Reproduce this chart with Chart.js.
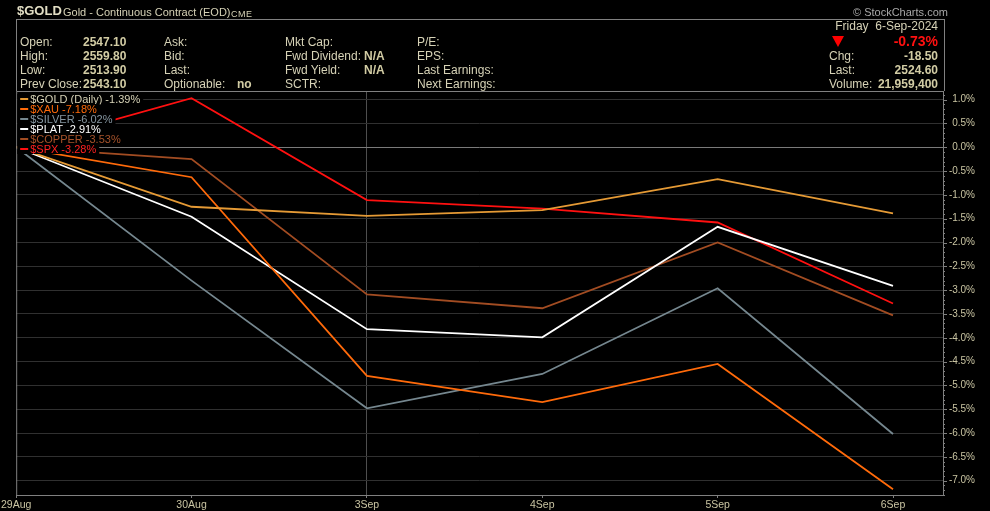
<!DOCTYPE html>
<html>
<head>
<meta charset="utf-8">
<title>$GOLD performance</title>
<script src="https://cdn.jsdelivr.net/npm/chart.js@4.4.1/dist/chart.umd.min.js"></script>
<style>
	html, body {
		margin: 0;
		padding: 0;
		background: #000;
		width: 990px;
		height: 511px;
		overflow: hidden;
		font-family: "Liberation Sans", Arial, sans-serif;
	}
	#wrap {
		position: relative;
		width: 990px;
		height: 511px;
	}
	#chart {
		position: absolute;
		left: 0;
		top: 0;
	}
	.t {
		position: absolute;
		white-space: pre;
		color: #d6d2b6;
		font-size: 12px;
		line-height: 14px;
	}
	.v {
		font-weight: bold;
		color: #d2cca4;
	}
	.r {
		text-align: right;
	}
	#box {
		position: absolute;
		left: 16px;
		top: 19px;
		width: 927px;
		height: 71px;
		border: 1px solid #808080;
		border-bottom: none;
	}
	#arrow {
		position: absolute;
		left: 832px;
		top: 36px;
		width: 0;
		height: 0;
		border-left: 6px solid transparent;
		border-right: 6px solid transparent;
		border-top: 11px solid #ff0000;
	}
</style>
</head>
<body>
<div id="wrap">
	<canvas id="chart" width="990" height="511"></canvas>
	<div id="box"></div>

	<div class="t" style="left:17px;top:4px;font-size:13px;font-weight:bold;color:#e2dec4;">$GOLD</div>
	<div class="t" style="left:63px;top:5px;font-size:11px;">Gold - Continuous Contract (EOD)</div>
	<div class="t" style="left:231px;top:7px;font-size:9px;letter-spacing:0.5px;">CME</div>
	<div class="t" style="left:853px;top:5px;font-size:11px;color:#a8a8a8;">© StockCharts.com</div>

	<div class="t" style="left:20px;top:35px;">Open:</div>
	<div class="t" style="left:20px;top:49px;">High:</div>
	<div class="t" style="left:20px;top:63px;">Low:</div>
	<div class="t" style="left:20px;top:77px;">Prev Close:</div>
	<div class="t v" style="left:83px;top:35px;">2547.10</div>
	<div class="t v" style="left:83px;top:49px;">2559.80</div>
	<div class="t v" style="left:83px;top:63px;">2513.90</div>
	<div class="t v" style="left:83px;top:77px;">2543.10</div>

	<div class="t" style="left:164px;top:35px;">Ask:</div>
	<div class="t" style="left:164px;top:49px;">Bid:</div>
	<div class="t" style="left:164px;top:63px;">Last:</div>
	<div class="t" style="left:164px;top:77px;">Optionable:</div>
	<div class="t v" style="left:237px;top:77px;">no</div>

	<div class="t" style="left:285px;top:35px;">Mkt Cap:</div>
	<div class="t" style="left:285px;top:49px;">Fwd Dividend:</div>
	<div class="t" style="left:285px;top:63px;">Fwd Yield:</div>
	<div class="t" style="left:285px;top:77px;">SCTR:</div>
	<div class="t v" style="left:364px;top:49px;">N/A</div>
	<div class="t v" style="left:364px;top:63px;">N/A</div>

	<div class="t" style="left:417px;top:35px;">P/E:</div>
	<div class="t" style="left:417px;top:49px;">EPS:</div>
	<div class="t" style="left:417px;top:63px;">Last Earnings:</div>
	<div class="t" style="left:417px;top:77px;">Next Earnings:</div>

	<div class="t r" style="left:780px;width:158px;top:19px;">Friday  6-Sep-2024</div>
	<div id="arrow"></div>
	<div class="t r v" style="left:840px;width:98px;top:33px;font-size:14px;line-height:16px;color:#ff1010;">-0.73%</div>
	<div class="t" style="left:829px;top:49px;">Chg:</div>
	<div class="t" style="left:829px;top:63px;">Last:</div>
	<div class="t" style="left:829px;top:77px;">Volume:</div>
	<div class="t r v" style="left:840px;width:98px;top:49px;">-18.50</div>
	<div class="t r v" style="left:840px;width:98px;top:63px;">2524.60</div>
	<div class="t r v" style="left:840px;width:98px;top:77px;">21,959,400</div>
</div>

<script>
	// dates on the x axis
	const dateLabels = ['29Aug', '30Aug', '3Sep', '4Sep', '5Sep', '6Sep'];

	// % change since 29Aug
	const goldValues = [0, -1.25, -1.44, -1.32, -0.67, -1.39];
	const xauValues = [0, -0.63, -4.80, -5.35, -4.55, -7.18];
	const silverValues = [0, -2.80, -5.48, -4.76, -2.96, -6.02];
	const platValues = [0, -1.46, -3.82, -3.99, -1.67, -2.91];
	const copperValues = [0, -0.25, -3.09, -3.38, -2.00, -3.53];
	const spxValues = [0, 1.03, -1.11, -1.29, -1.58, -3.28];

	const yTickValues = [1.0, 0.5, 0.0, -0.5, -1.0, -1.5, -2.0, -2.5, -3.0, -3.5, -4.0, -4.5, -5.0, -5.5, -6.0, -6.5, -7.0];

	const seriesList = [
		{name: '$GOLD (Daily)', values: goldValues, color: '#e59a35', text: '#d6d2b6'},
		{name: '$XAU', values: xauValues, color: '#ff6a0a', text: '#ff6a0a'},
		{name: '$SILVER', values: silverValues, color: '#75878f', text: '#8595a0'},
		{name: '$PLAT', values: platValues, color: '#ffffff', text: '#ffffff'},
		{name: '$COPPER', values: copperValues, color: '#a24c22', text: '#a6522a'},
		{name: '$SPX', values: spxValues, color: '#ff1010', text: '#ff2020'},
	];

	const axisText = '#c9c4a2';
	const frameColor = '#808080';

	// frame, minor ticks on the price axis, and the legend box in the corner
	const decorPlugin = {
		id: 'decor',
		afterDatasetsDraw(chart)
		{
			const ctx = chart.ctx;
			const area = chart.chartArea;
			const yScale = chart.scales.y;

			ctx.save();
			ctx.strokeStyle = frameColor;
			ctx.lineWidth = 1;
			ctx.strokeRect(area.left + 0.5, area.top + 0.5, area.right - area.left, area.bottom - area.top);

			for (let i = -73; i <= 11; i++)
			{
				const y = Math.round(yScale.getPixelForValue(i / 10)) + 0.5;
				ctx.beginPath();
				ctx.moveTo(area.right, y);
				ctx.lineTo(area.right + (i % 5 === 0 ? 4 : 2), y);
				ctx.stroke();
			}

			ctx.font = '11px "Liberation Sans", Arial, sans-serif';
			ctx.textBaseline = 'middle';
			seriesList.forEach((s, i) => {
				const label = s.name + ' ' + s.values[s.values.length - 1].toFixed(2) + '%';
				const y = area.top + 8 + i * 10;
				const w = ctx.measureText(label).width;

				ctx.fillStyle = '#000';
				ctx.fillRect(area.left + 1, y - 5, w + 16, 10);

				ctx.strokeStyle = s.color;
				ctx.lineWidth = 2;
				ctx.beginPath();
				ctx.moveTo(area.left + 4, y);
				ctx.lineTo(area.left + 12, y);
				ctx.stroke();

				ctx.fillStyle = s.text;
				ctx.fillText(label, area.left + 14, y + 0.5);
			});
			ctx.restore();
		}
	};

	const datasets = seriesList.map(s => ({
		label: s.name,
		data: s.values.map((v, i) => ({x: i, y: v})),
		borderColor: s.color,
		backgroundColor: s.color,
		borderWidth: 1.8,
		pointRadius: 0,
		tension: 0,
	}));

	new Chart(document.getElementById('chart'), {
		type: 'line',
		data: {
			datasets: datasets
		},
		options: {
			responsive: false,
			animation: false,
			devicePixelRatio: 1,
			layout: {
				padding: {left: 16, top: 91, right: 15, bottom: 0}
			},
			plugins: {
				legend: {display: false},
				tooltip: {enabled: false},
			},
			scales: {
				x: {
					type: 'linear',
					min: 0,
					max: 5.285,
					afterBuildTicks: (scale) => {
						scale.ticks = dateLabels.map((d, i) => ({value: i}));
					},
					afterFit: (scale) => {
						scale.height = 16;
					},
					grid: {
						// only the month boundary gets a line
						color: (c) => (c.tick && c.tick.value === 2 ? '#4e4e4e' : 'rgba(0,0,0,0)'),
						tickColor: frameColor,
						tickLength: 3,
					},
					border: {display: true, color: frameColor},
					ticks: {
						color: axisText,
						font: {family: '"Liberation Sans", Arial, sans-serif', size: 10.5},
						padding: 1,
						maxRotation: 0,
						autoSkip: false,
						callback: (v) => dateLabels[v],
					},
				},
				y: {
					position: 'right',
					min: -7.30,
					max: 1.18,
					afterBuildTicks: (scale) => {
						scale.ticks = yTickValues.map(v => ({value: v}));
					},
					afterFit: (scale) => {
						scale.width = 32;
					},
					grid: {
						color: (c) => (c.tick && c.tick.value === 0 ? '#7a7a7a' : '#303030'),
						drawTicks: false,
					},
					border: {display: true, color: frameColor},
					ticks: {
						color: axisText,
						font: {family: '"Liberation Sans", Arial, sans-serif', size: 10},
						padding: 4,
						crossAlign: 'far',
						callback: (v) => v.toFixed(1) + '%',
					},
				},
			},
		},
		plugins: [decorPlugin],
	});
</script>
</body>
</html>
